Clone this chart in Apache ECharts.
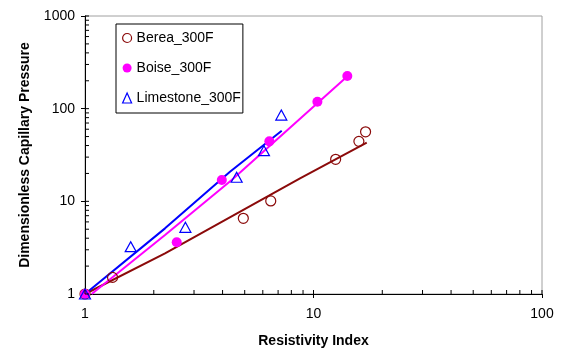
<!DOCTYPE html>
<html>
<head>
<meta charset="utf-8">
<script src="https://cdn.jsdelivr.net/npm/echarts@6/dist/echarts.min.js"></script>
<style>
html,body{margin:0;padding:0;background:#fff;}
#chart{width:561px;height:350px;}
</style>
</head>
<body>
<div id="chart"></div>
<script>
// ---- data ----
var bereaX = [1, 1.32, 4.93, 6.50, 12.5, 15.8, 16.9];
var bereaY = [1, 1.51, 6.56, 10.1, 28.4, 44.4, 56.3];
var boiseX = [1, 2.52, 3.97, 6.41, 10.4, 14.06];
var boiseY = [1, 3.61, 17.0, 44.4, 118.7, 224.8];
var limeX = [1, 1.585, 2.75, 4.61, 6.07, 7.23];
var limeY = [1, 3.24, 5.24, 18.2, 35.2, 85.3];

// trend lines
var bereaFitX = [1, 2.24, 8.73, 17.1];
var bereaFitY = [1, 2.75, 17.7, 42.9];
var boiseFitX = [1.07, 2.24, 4.385, 14.0];
var boiseFitY = [1.0, 4.33, 17.0, 221];
var limeFitX = [1, 2.24, 4.31, 7.26];
var limeFitY = [1, 5.11, 20.9, 57.8];

var seriesNames = ['Berea_300F', 'Boise_300F', 'Limestone_300F'];
var xAxisTitle = 'Resistivity Index';
var yAxisTitle = 'Dimensionless Capillary Pressure';

// axis tick positions
var xMajorTicks = [1, 10, 100];
var xMinorTicks = [2, 3, 4, 5, 6, 7, 8, 9, 20, 30, 40, 50, 60, 70, 80, 90];
var yMajorTicks = [1, 10, 100, 1000];
var yMinorTicks = [2, 3, 4, 5, 6, 7, 8, 9, 20, 30, 40, 50, 60, 70, 80, 90, 200, 300, 400, 500, 600, 700, 800, 900];

var FONT = '"Liberation Sans", Arial, sans-serif';
var cBerea = '#8B0A0A', cBoise = '#FF00FF', cLime = '#0000FF';

function zip(xs, ys) { return xs.map(function (x, i) { return [x, ys[i]]; }); }
function plainLabel(v) { return String(Math.round(v)); }

function tickSeries(axis, values, len) {
  return {
    type: 'custom', silent: true, clip: false, z: 6,
    data: values.map(function (v) { return axis === 'x' ? [v, 1] : [1, v]; }),
    renderItem: function (params, api) {
      var p = api.coord([api.value(0), api.value(1)]);
      var shape = axis === 'x'
        ? { x1: p[0], y1: p[1], x2: p[0], y2: p[1] - len }
        : { x1: p[0], y1: p[1], x2: p[0] + len, y2: p[1] };
      return { type: 'line', shape: shape, style: { stroke: '#000', lineWidth: 1 } };
    }
  };
}

var chart = echarts.init(document.getElementById('chart'), null, { renderer: 'canvas' });
chart.setOption({
  animation: false,
  backgroundColor: '#fff',
  textStyle: { fontFamily: FONT },
  grid: { left: 85, right: 19, top: 16, bottom: 56, containLabel: false, outerBoundsMode: 'none',
    show: true, borderColor: '#a0a0a0', borderWidth: 1, backgroundColor: 'transparent' },
  legend: {
    orient: 'vertical', left: 116, top: 24,
    padding: [7, 2, 8, 6], itemGap: 16, itemWidth: 9, itemHeight: 10,
    borderColor: '#000', borderWidth: 1, backgroundColor: '#fff',
    textStyle: { fontSize: 14, color: '#000', fontFamily: FONT },
    data: [
      { name: seriesNames[0], icon: 'circle', itemStyle: { color: 'rgba(0,0,0,0)', borderColor: cBerea, borderWidth: 1.2 } },
      { name: seriesNames[1], icon: 'circle', itemStyle: { color: cBoise, borderWidth: 0 } },
      { name: seriesNames[2], icon: 'triangle', itemStyle: { color: 'rgba(0,0,0,0)', borderColor: cLime, borderWidth: 1.2 } }
    ]
  },
  xAxis: {
    type: 'log', logBase: 10, min: 1, max: 100,
    name: xAxisTitle, nameLocation: 'middle', nameGap: 40,
    nameTextStyle: { fontSize: 14, fontWeight: 'bold', color: '#000', fontFamily: FONT },
    axisLine: { show: true, lineStyle: { color: '#000', width: 1 } },
    axisTick: { show: true, length: 4, lineStyle: { color: '#000' } },
    axisLabel: { fontSize: 14, color: '#000', margin: 13, fontFamily: FONT, formatter: plainLabel },
    splitLine: { show: false }, minorTick: { show: false }
  },
  yAxis: {
    type: 'log', logBase: 10, min: 1, max: 1000,
    name: yAxisTitle, nameLocation: 'middle', nameGap: 53, nameRotate: 90,
    nameTextStyle: { fontSize: 14, fontWeight: 'bold', color: '#000', fontFamily: FONT },
    axisLine: { show: true, lineStyle: { color: '#000', width: 1 } },
    axisTick: { show: true, length: 4, lineStyle: { color: '#000' } },
    axisLabel: { fontSize: 14, color: '#000', margin: 10, fontFamily: FONT, formatter: plainLabel },
    splitLine: { show: false }, minorTick: { show: false }
  },
  series: [
    tickSeries('x', xMajorTicks, 4),
    tickSeries('x', xMinorTicks, 4),
    tickSeries('y', yMajorTicks, 4),
    tickSeries('y', yMinorTicks, 4),
    { type: 'line', data: zip(bereaFitX, bereaFitY), symbol: 'none', lineStyle: { color: cBerea, width: 2 }, z: 2, silent: true },
    { type: 'line', data: zip(boiseFitX, boiseFitY), symbol: 'none', lineStyle: { color: cBoise, width: 2 }, z: 2, silent: true },
    { type: 'line', data: zip(limeFitX, limeFitY), symbol: 'none', lineStyle: { color: cLime, width: 2 }, z: 2, silent: true },
    { name: seriesNames[0], type: 'scatter', data: zip(bereaX, bereaY), symbol: 'circle', symbolSize: 10,
      itemStyle: { color: 'rgba(0,0,0,0)', borderColor: cBerea, borderWidth: 1.2, opacity: 1 }, z: 3 },
    { name: seriesNames[1], type: 'scatter', data: zip(boiseX, boiseY), symbol: 'circle', symbolSize: 10,
      itemStyle: { color: cBoise, opacity: 1 }, z: 3 },
    { name: seriesNames[2], type: 'scatter', data: zip(limeX, limeY), symbol: 'triangle', symbolSize: [11, 10],
      itemStyle: { color: 'rgba(0,0,0,0)', borderColor: cLime, borderWidth: 1.2, opacity: 1 }, z: 3 }
  ]
});
</script>
</body>
</html>
